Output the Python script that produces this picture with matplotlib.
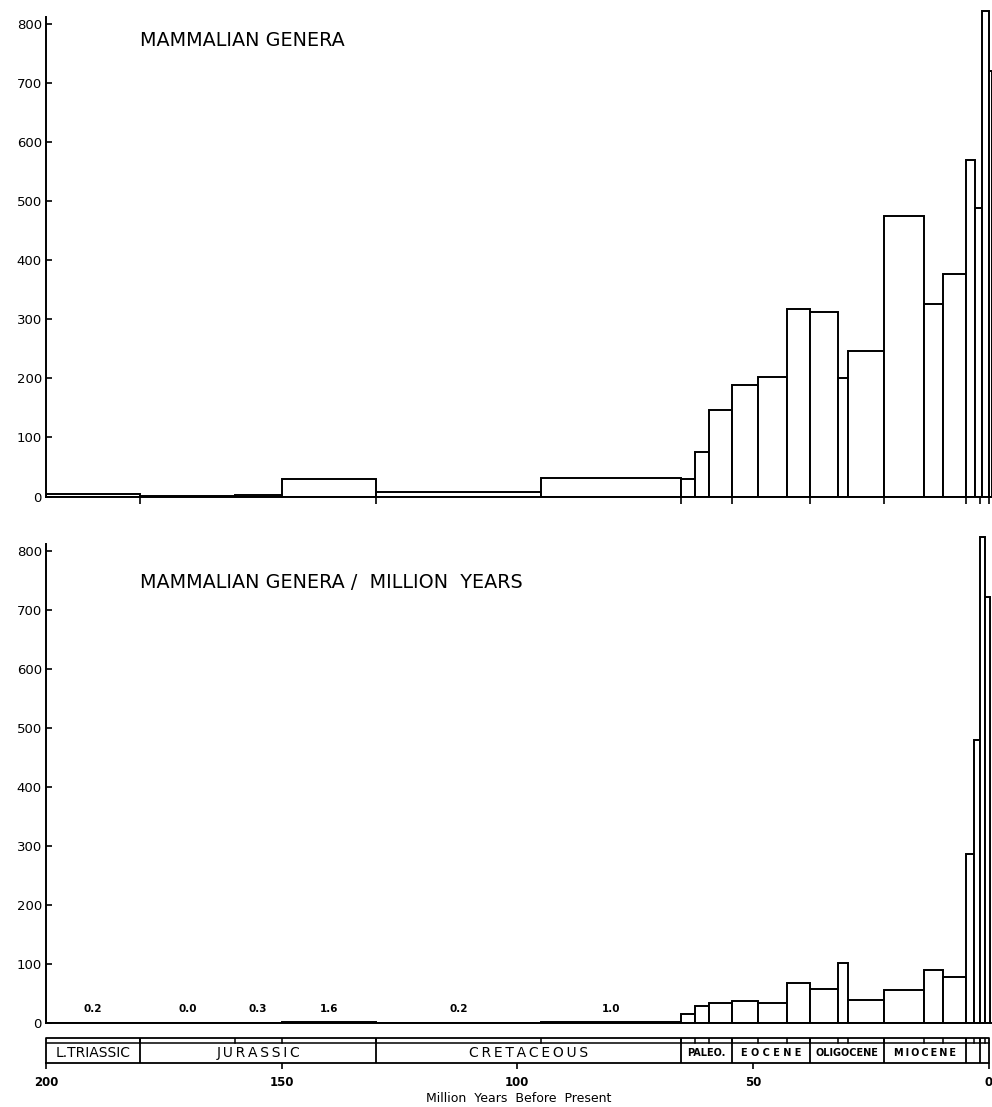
import matplotlib
matplotlib.use("Agg")
import matplotlib.pyplot as plt
import numpy as np

# bin boundaries in million years before present, oldest first
edges = [200, 180, 160, 150, 130, 95, 65.3, 62.2, 59.3, 54.4, 49.0, 42.8,
         37.9, 31.9, 29.8, 22.2, 13.6, 9.6]
# the youngest bins are drawn a little differently in the two panels
recent_edges_top = [4.7, 2.8, 1.4, 0.0, -0.7]
recent_edges_rate = [4.8, 3.1, 1.9, 0.8, -0.4]

# number of mammalian genera per bin
genera = [4, 1, 3, 30, 7, 32, 30, 76, 147, 189, 202, 318, 312, 201, 247,
          474, 325, 377, 570, 488, 822, 720]
# genera per million years
rate = [0.2, 0.0, 0.3, 1.6, 0.2, 1.0, 15, 28, 33, 37, 34, 68, 57, 102, 39,
        55, 89, 77, 287, 480, 825, 722]
n_rate_labels = 6

# time scale
period_names = ["L.TRIASSIC", "J\u2009U\u2009R\u2009A\u2009S\u2009S\u2009I\u2009C",
                "C\u2009R\u2009E\u2009T\u2009A\u2009C\u2009E\u2009O\u2009U\u2009S",
                "PALEO.", "E O C E N E", "OLIGOCENE",
                "M\u2009I\u2009O\u2009C\u2009E\u2009N\u2009E", "", ""]
period_bounds = [200, 180, 130, 65.3, 54.4, 37.9, 22.2, 4.8, 1.9, 0]
year_ticks = [200, 150, 100, 50, 0]
y_ticks = [0, 100, 200, 300, 400, 500, 600, 700, 800]

W, H = 992, 1107
X0, XR = 46, 992          # pixel of x=200 and right edge
PX_PER_MA = (988.5 - 46) / 200.0
x_right = -(XR - 988.5) / PX_PER_MA


def fig_box(top_px, bottom_px):
    return [X0 / W, 1 - bottom_px / H, (XR - X0) / W, (bottom_px - top_px) / H]


def bars(ax, all_edges, values):
    old = np.array(all_edges[:-1])
    young = np.array(all_edges[1:])
    ax.bar((old + young) / 2, values, width=old - young, color="white",
           edgecolor="black", linewidth=1.4, zorder=2)
    return old, young


def style_value_axis(ax, top):
    ax.set_xlim(200, x_right)
    ax.set_ylim(0, top)
    for s in ["top", "right"]:
        ax.spines[s].set_visible(False)
    ax.spines["left"].set_linewidth(1.4)
    ax.spines["bottom"].set_linewidth(1.4)
    ax.spines["left"].set_bounds(0, 812)
    ax.set_yticks(y_ticks)
    ax.set_yticklabels([str(v) for v in y_ticks], fontsize=9.5)
    ax.tick_params(axis="y", direction="in", length=4.5, width=1.2, pad=3)


plt.rcParams["font.family"] = ["DejaVu Sans"]
fig = plt.figure(figsize=(W / 100, H / 100), dpi=100)

# upper panel: genera
ax1 = fig.add_axes(fig_box(0, 496.5))
bars(ax1, edges + recent_edges_top, genera)
style_value_axis(ax1, 840)
ax1.set_xticks(period_bounds[1:])
ax1.set_xticklabels([])
ax1.tick_params(axis="x", direction="out", length=5, width=1.2)
fig.text(140 / W, 1 - 40 / H, "MAMMALIAN GENERA", fontsize=13.8, va="center")

# lower panel: genera per million years
ax2 = fig.add_axes(fig_box(522, 1022.7))
old, young = bars(ax2, edges + recent_edges_rate, rate)
style_value_axis(ax2, 850)
ax2.set_xticks([])
for i in range(n_rate_labels):
    ax2.text((old[i] + young[i]) / 2, 24, "{:.1f}".format(rate[i]),
             ha="center", va="center", fontsize=7.5, fontweight="bold")
fig.text(140 / W, 1 - 583 / H, "MAMMALIAN GENERA /  MILLION  YEARS",
         fontsize=13.8, va="center")

# time scale strip
ax3 = fig.add_axes(fig_box(1037.5, 1063.3))
ax3.set_xlim(200, x_right)
ax3.set_ylim(0, 1)
for s in ax3.spines.values():
    s.set_visible(False)
ax3.set_yticks([])
split = 0.77
ax3.plot([200, 0, 0, 200, 200], [0, 0, 1, 1, 0], color="black", lw=1.3,
         clip_on=False)
ax3.plot([200, 0], [split, split], color="black", lw=1.1)
for b in period_bounds[1:-1]:
    ax3.plot([b, b], [0, 1], color="black", lw=1.3)
for e in edges[1:] + recent_edges_rate[:-1]:
    ax3.plot([e, e], [split, 1], color="black", lw=1.1)
for i, name in enumerate(period_names):
    if not name:
        continue
    mid = (period_bounds[i] + period_bounds[i + 1]) / 2
    if i < 3:
        ax3.text(mid, split / 2, name, ha="center", va="center", fontsize=10)
    else:
        ax3.text(mid, split / 2, name, ha="center", va="center", fontsize=7,
                 fontweight="bold")
ax3.set_xticks(year_ticks)
ax3.set_xticklabels([str(v) for v in year_ticks], fontsize=8.5,
                    fontweight="bold")
ax3.tick_params(axis="x", direction="out", length=4, width=1.2, pad=5)
ax3.set_xlabel("Million  Years  Before  Present", fontsize=9, labelpad=2)

fig.savefig("out.png", dpi=100, facecolor="white")
